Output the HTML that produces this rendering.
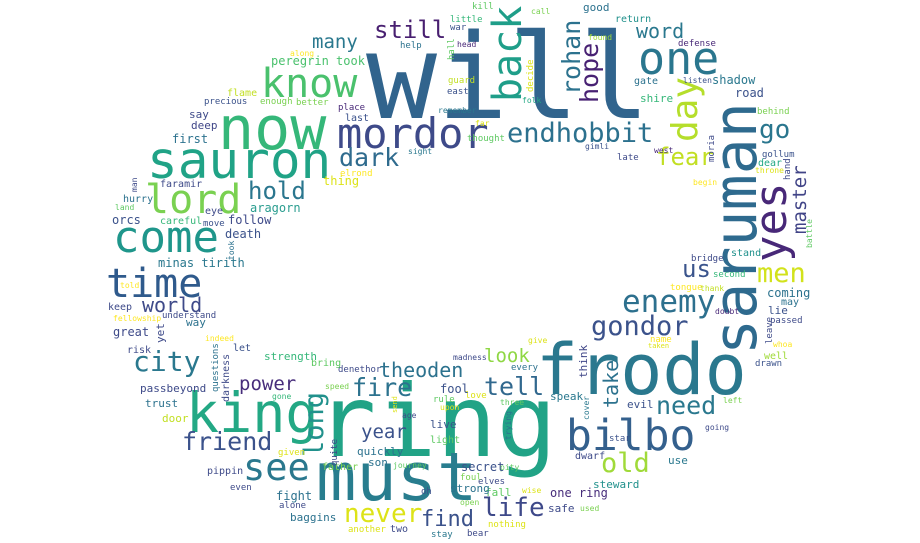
<!DOCTYPE html>
<html><head><meta charset="utf-8">
<style>
html,body{margin:0;padding:0;background:#fff;}
svg{display:block;}
text{font-family:"DejaVu Sans Mono","Liberation Mono",monospace;}
</style></head>
<body>
<svg id="cloud" width="920" height="543" viewBox="0 0 920 543" xmlns="http://www.w3.org/2000/svg">
<rect width="920" height="543" fill="#fff"/>
</svg>
<script>
// [word, x, baseline y, font size, color, vertical(1)]
const words = [
["will",366,118,118,"#31648d",0],
["ring",316,456,100,"#21a386",0],
["frodo",536,394,70,"#2a788e",0],
["saruman",756,355,60,"#2e6a8e",1],
["must",316,500,67,"#287d8e",0],
["king",186,432,55,"#23a884",0],
["mordor",337,148,42,"#3e4a89",0],
["sauron",147,178,51,"#20a386",0],
["now",218,149,60,"#35b779",0],
["bilbo",566,450,43,"#34608d",0],
["know",261,97,40,"#4ac16d",0],
["lord",145,213,40,"#7ad151",0],
["come",113,252,44,"#1f968b",0],
["time",106,297,40,"#2f5a8c",0],
["city",133,371,28,"#2a788e",0],
["back",521,102,40,"#1f9e89",1],
["one",638,74,45,"#2a768e",0],
["endhobbit",507,142,27,"#2c718e",0],
["rohan",580,95,25,"#2c728e",1],
["hope",598,103,25,"#482173",1],
["word",636,38,20,"#2a788e",0],
["day",697,142,36,"#b5de2b",1],
["fear",656,165,24,"#c2df23",0],
["go",759,138,26,"#2a768e",0],
["yes",786,262,44,"#482878",1],
["master",806,234,19,"#414487",1],
["men",757,282,27,"#d2e21b",0],
["us",682,277,24,"#3a548c",0],
["enemy",622,312,31,"#2d708e",0],
["gondor",591,335,27,"#3b528b",0],
["take",618,408,20,"#2c728e",1],
["need",656,414,25,"#2a788e",0],
["old",601,472,27,"#a0da39",0],
["tell",484,395,25,"#31688e",0],
["life",482,516,26,"#3e4989",0],
["look",484,362,19,"#8fd744",0],
["think",587,378,11,"#404688",1],
["speak",550,400,11,"#2a788e",0],
["evil",627,408,11,"#3b528b",0],
["fire",352,396,25,"#2c728e",0],
["theoden",379,377,20,"#2c728e",0],
["power",239,390,19,"#472d7b",0],
["friend",182,450,25,"#3b528b",0],
["see",243,480,37,"#2a788e",0],
["long",323,457,27,"#21918c",1],
["year",361,438,19,"#3b528b",0],
["never",344,522,26,"#dde318",0],
["find",421,526,22,"#3b528b",0],
["world",142,312,20,"#3e4a89",0],
["many",312,48,19,"#2a788e",0],
["still",374,38,24,"#481f70",0],
["dark",339,166,25,"#2f6b8e",0],
["hold",248,199,24,"#2a768e",0],
["peregrin took",271,65,12,"#4ac16d",0],
["flame",227,96,10,"#c2df23",0],
["precious",204,104,9,"#3b528b",0],
["say",189,118,11,"#3e4a89",0],
["deep",191,129,11,"#404688",0],
["first",172,143,12,"#2c728e",0],
["faramir",160,187,10,"#3e4a89",0],
["man",137,192,8,"#3e4a89",1],
["hurry",123,202,10,"#2c728e",0],
["land",115,210,8,"#5ec962",0],
["orcs",112,224,12,"#3b528b",0],
["careful",160,224,10,"#35b779",0],
["eye",205,214,10,"#3e4a89",0],
["move",203,226,9,"#3b528b",0],
["follow",228,224,12,"#3e4a89",0],
["aragorn",250,212,12,"#2a9d8f",0],
["death",225,238,12,"#3b528b",0],
["took",234,260,8,"#2c728e",1],
["minas tirith",158,267,12,"#2a788e",0],
["thing",323,185,12,"#dde318",0],
["elrond",340,176,9,"#fde725",0],
["sight",408,154,8,"#2a788e",0],
["along",290,56,8,"#fde725",0],
["enough",260,104,9,"#7ad151",0],
["better",296,105,9,"#7ad151",0],
["place",338,110,9,"#482878",0],
["last",345,121,10,"#3b528b",0],
["help",400,48,9,"#2c728e",0],
["hall",454,60,9,"#5ec962",1],
["guard",448,83,9,"#c2df23",0],
["east",447,94,9,"#3b528b",0],
["remember",438,113,8,"#2a788e",0],
["far",475,126,8,"#dde318",0],
["thought",467,141,9,"#5ec962",0],
["little",450,22,9,"#35b779",0],
["war",450,30,9,"#3b528b",0],
["kill",472,9,9,"#5ec962",0],
["head",457,47,8,"#482878",0],
["call",531,14,8,"#7ad151",0],
["good",583,11,11,"#2c728e",0],
["return",615,22,10,"#21918c",0],
["found",588,40,8,"#a0da39",0],
["defense",678,46,9,"#482878",0],
["decide",533,92,9,"#dde318",1],
["folk",522,103,8,"#22a884",0],
["gate",634,84,10,"#2c728e",0],
["listen",683,83,8,"#3b528b",0],
["shadow",712,84,12,"#2a788e",0],
["road",735,97,12,"#3b528b",0],
["shire",640,102,11,"#35b779",0],
["behind",757,114,9,"#7ad151",0],
["gimli",585,149,8,"#3b528b",0],
["late",617,160,9,"#3e4a89",0],
["west",654,153,8,"#482878",0],
["moria",714,162,9,"#3e4a89",1],
["gollum",762,157,9,"#3b528b",0],
["dear",758,166,10,"#22a884",0],
["throne",755,173,8,"#dde318",0],
["hand",790,180,9,"#3e4a89",1],
["begin",693,185,8,"#fde725",0],
["battle",812,248,8,"#5ec962",1],
["bridge",691,261,9,"#3e4a89",0],
["stand",731,256,10,"#21918c",0],
["second",713,277,9,"#35b779",0],
["tongue",670,290,9,"#fde725",0],
["thank",700,291,8,"#c2df23",0],
["coming",767,297,12,"#2c728e",0],
["may",781,305,10,"#2c728e",0],
["lie",768,314,11,"#3b528b",0],
["doubt",715,314,8,"#482878",0],
["leave",772,344,9,"#3e4a89",1],
["passed",770,323,9,"#3e4a89",0],
["name",650,342,9,"#fde725",0],
["taken",648,348,7,"#dde318",0],
["give",528,343,8,"#dde318",0],
["every",511,370,9,"#2c728e",0],
["whoa",773,347,8,"#fde725",0],
["well",764,359,10,"#a0da39",0],
["drawn",755,366,9,"#3b528b",0],
["three",500,405,8,"#5ec962",0],
["left",723,403,8,"#7ad151",0],
["cover",589,420,8,"#2a788e",1],
["going",705,430,8,"#3e4a89",0],
["trying",511,440,8,"#2c728e",1],
["star",609,441,9,"#3b528b",0],
["dwarf",575,459,10,"#3e4a89",0],
["use",668,464,11,"#2a788e",0],
["pity",500,470,8,"#5ec962",0],
["steward",593,488,11,"#21918c",0],
["one ring",550,497,12,"#472d7b",0],
["safe",548,512,11,"#3e4a89",0],
["used",580,511,8,"#7ad151",0],
["wise",522,493,8,"#dde318",0],
["nothing",488,527,9,"#dde318",0],
["elves",478,484,9,"#3e4a89",0],
["fall",485,496,11,"#5ec962",0],
["strong",450,492,11,"#2c728e",0],
["foul",460,480,9,"#7ad151",0],
["secret",461,471,12,"#3b528b",0],
["oh",421,494,9,"#3b528b",0],
["open",460,505,8,"#7ad151",0],
["bear",467,536,9,"#3e4a89",0],
["stay",431,537,9,"#2a788e",0],
["two",390,532,10,"#3e4a89",0],
["another",348,532,9,"#dde318",0],
["baggins",290,521,11,"#2c728e",0],
["alone",279,508,9,"#3e4a89",0],
["fight",276,500,12,"#2c728e",0],
["even",230,490,9,"#3e4a89",0],
["pippin",207,474,10,"#3e4a89",0],
["father",322,470,10,"#7ad151",0],
["journey",393,468,8,"#5ec962",0],
["son",368,466,11,"#2c728e",0],
["quickly",357,455,11,"#2c728e",0],
["given",278,455,9,"#dde318",0],
["quite",337,466,9,"#3e4a89",1],
["light",430,443,10,"#5ec962",0],
["live",430,428,11,"#3b528b",0],
["age",402,418,8,"#3e4a89",0],
["send",397,413,7,"#dde318",1],
["rule",433,402,9,"#5ec962",0],
["upon",440,410,8,"#dde318",0],
["love",465,398,9,"#dde318",0],
["fool",440,393,12,"#3b528b",0],
["gone",272,399,8,"#35b779",0],
["speed",325,389,8,"#7ad151",0],
["denethor",338,372,9,"#3e4a89",0],
["bring",311,366,10,"#5ec962",0],
["madness",453,360,8,"#3e4a89",0],
["strength",264,360,11,"#35b779",0],
["let",233,351,10,"#3b528b",0],
["indeed",205,341,8,"#fde725",0],
["questions",218,392,9,"#2c728e",1],
["darkness",229,402,10,"#3e4a89",1],
["passbeyond",140,392,11,"#3e4a89",0],
["trust",145,407,11,"#2c728e",0],
["door",162,422,11,"#c2df23",0],
["risk",127,353,10,"#3e4a89",0],
["great",113,336,12,"#3e4a89",0],
["yet",164,343,11,"#3e4a89",1],
["way",186,326,11,"#2c728e",0],
["understand",162,318,9,"#3e4a89",0],
["fellowship",113,321,8,"#fde725",0],
["keep",108,310,10,"#3e4a89",0],
["told",120,288,8,"#fde725",0]
];
const svg = document.getElementById('cloud');
const NS = 'http://www.w3.org/2000/svg';
for (const w of words) {
  const t = document.createElementNS(NS, 'text');
  t.setAttribute('x', w[1]);
  t.setAttribute('y', w[2]);
  t.setAttribute('font-size', w[3]);
  t.setAttribute('fill', w[4]);
  if (w[5]) t.setAttribute('transform', 'rotate(-90 ' + w[1] + ' ' + w[2] + ')');
  t.textContent = w[0];
  
  
  svg.appendChild(t);
}
</script>
</body></html>
